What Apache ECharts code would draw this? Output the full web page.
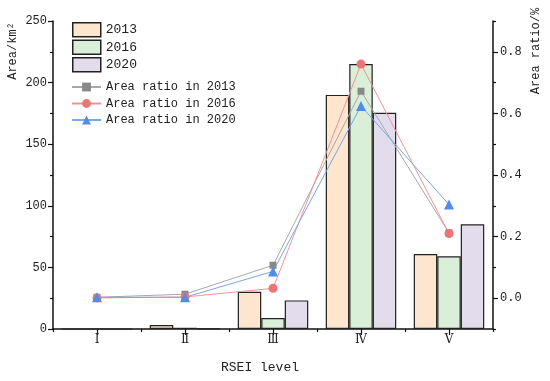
<!DOCTYPE html>
<html>
<head>
<meta charset="utf-8">
<script src="https://cdn.jsdelivr.net/npm/echarts@6/dist/echarts.min.js"></script>
<style>html,body{margin:0;padding:0;background:#fff}#c{width:550px;height:381px}</style>
</head>
<body>
<div id="c"></div>
<script>
var categories = ['Ⅰ', 'Ⅱ', 'Ⅲ', 'Ⅳ', 'Ⅴ'];
var barNames = ['2013', '2016', '2020'];
var area2013 = [0, 3.2, 30.2, 190, 60.8];
var area2016 = [0, 1.0, 8.9, 215, 59.1];
var area2020 = [0, 0.2, 23.2, 175.5, 85];
var lineNames = ['Area ratio in 2013', 'Area ratio in 2016', 'Area ratio in 2020'];
var ratio2013 = [0.003, 0.013, 0.107, 0.672, 0.212];
var ratio2016 = [0.001, 0.004, 0.032, 0.76, 0.21];
var ratio2020 = [0.003, 0.003, 0.087, 0.624, 0.304];
var rightMajor = [0, 0.2, 0.4, 0.6, 0.8];
var rightMinor = [-0.1, 0.1, 0.3, 0.5, 0.7, 0.9];

var FONT = '"Liberation Mono", "DejaVu Serif", serif';
var chart = echarts.init(document.getElementById('c'), null, {renderer: 'canvas'});
var axisLine = {show: true, onZero: false, lineStyle: {color: '#111', width: 1.5}};
var tickStyle = {color: '#111', width: 1.2};

var barColors = ['#FDE5CE', '#D9EFD8', '#E2DCEC'];
var lineColors = ['#A8A8A8', '#F59393', '#76A7F2'];
var markColors = ['#888888', '#F07474', '#4E8CEE'];
var symbols = ['rect', 'circle', 'triangle'];
var symSizes = [7, 9, 10];
var areas = [area2013, area2016, area2020];
var ratios = [ratio2013, ratio2016, ratio2020];

var series = [];
for (var i = 0; i < 3; i++) {
  series.push({
    name: barNames[i], type: 'bar', xAxisIndex: 0, yAxisIndex: 0,
    data: areas[i], barWidth: 23.5, barGap: '0%',
    itemStyle: {color: barColors[i], borderColor: '#222', borderWidth: 1.2}
  });
}
for (var j = 0; j < 3; j++) {
  series.push({
    name: lineNames[j], type: 'line', xAxisIndex: 0, yAxisIndex: 1,
    data: ratios[j], symbol: symbols[j], symbolSize: symSizes[j],
    lineStyle: {color: lineColors[j], width: 1},
    itemStyle: {color: markColors[j]}, z: 5
  });
}

chart.setOption({
  animation: false,
  grid: {left: 53, right: 57, top: 21, bottom: 52},
  legend: [
    {data: barNames, orient: 'vertical', left: 72, top: 22, padding: 0,
     icon: 'rect', itemWidth: 28, itemHeight: 14, itemGap: 2,
     itemStyle: {borderWidth: 1.5},
     textStyle: {fontFamily: FONT, fontSize: 13, color: '#222'}},
    {data: lineNames, orient: 'vertical', left: 71, top: 81, padding: 0,
     itemWidth: 29, itemHeight: 11, itemGap: 4.5,
     textStyle: {fontFamily: FONT, fontSize: 12, color: '#222'}}
  ],
  xAxis: [
    {type: 'category', data: categories, position: 'bottom',
     axisLine: axisLine,
     axisTick: {show: true, alignWithLabel: true, length: 6, lineStyle: tickStyle},
     axisLabel: {fontFamily: FONT, fontSize: 12, color: '#222', margin: 5}},
    {type: 'category', data: categories, position: 'bottom', gridIndex: 0, offset: 0,
     axisLine: {show: false, onZero: false},
     axisTick: {show: true, alignWithLabel: false, length: 3, lineStyle: tickStyle},
     axisLabel: {show: false}}
  ],
  yAxis: [
    {type: 'value', min: 0, max: 250, interval: 50, position: 'left',
     axisLine: axisLine,
     axisTick: {show: true, length: 5, lineStyle: tickStyle},
     minorTick: {show: true, splitNumber: 2, length: 3, lineStyle: tickStyle},
     splitLine: {show: false},
     axisLabel: {fontFamily: FONT, fontSize: 12, color: '#222', margin: 6}},
    {type: 'value', min: -0.1, max: 0.9, position: 'right',
     axisLine: axisLine,
     axisTick: {show: true, length: 5, lineStyle: tickStyle, customValues: rightMajor},
     splitLine: {show: false},
     axisLabel: {fontFamily: FONT, fontSize: 12, color: '#222', margin: 7,
                 customValues: rightMajor,
                 formatter: function (v) { return v.toFixed(1); }}},
    {type: 'value', min: -0.1, max: 0.9, position: 'right',
     axisLine: {show: false, onZero: false},
     axisTick: {show: true, length: 3, lineStyle: tickStyle, customValues: rightMinor},
     splitLine: {show: false},
     axisLabel: {show: false, customValues: rightMinor}}
  ],
  graphic: [
    {type: 'text', x: 13, y: 51, rotation: Math.PI / 2,
     style: {text: 'Area/km²', font: '12px ' + FONT, fill: '#222',
             textAlign: 'center', textVerticalAlign: 'middle'}},
    {type: 'text', x: 536, y: 51, rotation: Math.PI / 2,
     style: {text: 'Area ratio/%', font: '12px ' + FONT, fill: '#222',
             textAlign: 'center', textVerticalAlign: 'middle'}},
    {type: 'text', x: 260, y: 368,
     style: {text: 'RSEI level', font: '13px ' + FONT, fill: '#222',
             textAlign: 'center', textVerticalAlign: 'middle'}}
  ],
  series: series
});
</script>
</body>
</html>
